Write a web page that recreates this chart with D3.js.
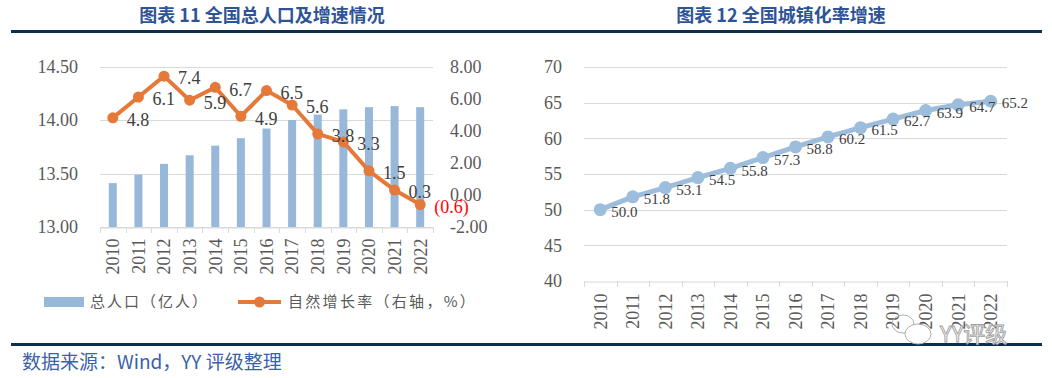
<!DOCTYPE html>
<html>
<head>
<meta charset="utf-8">
<script src="https://cdn.jsdelivr.net/npm/d3@7"></script>
<style>
  body { margin: 0; background: #fff; }
  svg { display: block; }
</style>
</head>
<body>
<div id="chart"></div>
<script>
// data
const years = ["2010", "2011", "2012", "2013", "2014", "2015", "2016", "2017", "2018", "2019", "2020", "2021", "2022"];
const population = [13.41, 13.49, 13.59, 13.67, 13.76, 13.83, 13.92, 14.00, 14.05, 14.10, 14.12, 14.13, 14.12];
const growthRate = [4.8, 6.1, 7.4, 5.9, 6.7, 4.9, 6.5, 5.6, 3.8, 3.3, 1.5, 0.3, -0.6];
const urbanRate = [50.0, 51.8, 53.1, 54.5, 55.8, 57.3, 58.8, 60.2, 61.5, 62.7, 63.9, 64.7, 65.2];
const popTicks = [13.0, 13.5, 14.0, 14.5];
const rateTicks = [-2, 0, 2, 4, 6, 8];
const urbanTicks = [40, 45, 50, 55, 60, 65, 70];

const W = 1052, H = 378;
const numFont = "'Liberation Serif', 'Times New Roman', serif";
const cjkFont = "'Noto Sans CJK SC', sans-serif";
const grey = "#595959", gridColor = "#d9d9d9";
const barColor = "#97b8d9", orange = "#e4793a", lineBlue = "#9dbddc";
const titleBlue = "#2f5496", navy = "#0f2d4f";

// excel style: plain hyphen for negatives
const fmt2 = (d) => d3.format(".2f")(d).replace("−", "-");

const svg = d3.select("#chart").append("svg")
	.attr("width", W)
	.attr("height", H);

// titles + rules
const titles = [["图表 11 全国总人口及增速情况", 262], ["图表 12 全国城镇化率增速", 781]];
svg.selectAll(".title")
	.data(titles)
	.enter()
	.append("text")
	.attr("x", (d) => d[1])
	.attr("y", 22)
	.attr("text-anchor", "middle")
	.attr("fill", titleBlue)
	.style("font", `bold 18px ${cjkFont}`)
	.text((d) => d[0]);

svg.append("line").attr("x1", 11).attr("x2", 1042).attr("y1", 31.5).attr("y2", 31.5)
	.attr("stroke", navy).attr("stroke-width", 3);
svg.append("line").attr("x1", 11).attr("x2", 1042).attr("y1", 344.5).attr("y2", 344.5)
	.attr("stroke", navy).attr("stroke-width", 3);

svg.append("text")
	.attr("x", 22)
	.attr("y", 369)
	.attr("fill", "#3a62a8")
	.style("font", `19px ${cjkFont}`)
	.text("数据来源：Wind，YY 评级整理");

// ---------- left chart ----------
const x1 = d3.scaleBand().domain(years).range([100, 433]);
const yPop = d3.scaleLinear().domain([13, 14.5]).range([227, 66.5]);
const yRate = d3.scaleLinear().domain([-2, 8]).range([227, 66.5]);

const left = svg.append("g");

left.selectAll(".grid")
	.data(popTicks)
	.enter()
	.append("line")
	.attr("x1", 100).attr("x2", 433)
	.attr("y1", (d) => Math.round(yPop(d)) + 0.5)
	.attr("y2", (d) => Math.round(yPop(d)) + 0.5)
	.attr("stroke", gridColor);

const barW = 8;
left.selectAll("rect")
	.data(population)
	.enter()
	.append("rect")
	.attr("x", (d, i) => x1(years[i]) + x1.bandwidth() / 2 - barW / 2)
	.attr("y", (d) => yPop(d))
	.attr("width", barW)
	.attr("height", (d) => yPop(13) - yPop(d))
	.attr("fill", barColor);

const xAxisLeft = left.append("g")
	.attr("transform", "translate(0,227.5)")
	.call(d3.axisBottom(x1).tickSize(0));
xAxisLeft.select(".domain").attr("stroke", gridColor);
xAxisLeft.selectAll("text")
	.attr("transform", "rotate(-90)")
	.attr("x", -11).attr("y", 0).attr("dy", "0.35em")
	.attr("text-anchor", "end")
	.attr("fill", grey)
	.style("font", `18px ${numFont}`);
left.selectAll(".btick")
	.data(d3.range(years.length + 1))
	.enter()
	.append("line")
	.attr("x1", (i) => Math.round(100 + i * x1.step()) + 0.5)
	.attr("x2", (i) => Math.round(100 + i * x1.step()) + 0.5)
	.attr("y1", 227).attr("y2", 233)
	.attr("stroke", gridColor);

const yAxisL = left.append("g")
	.attr("transform", "translate(100,0)")
	.call(d3.axisLeft(yPop).tickValues(popTicks).tickFormat(fmt2).tickSize(0).tickPadding(22));
yAxisL.select(".domain").remove();
yAxisL.selectAll("text").attr("fill", grey).style("font", `18px ${numFont}`);

const yAxisR = left.append("g")
	.attr("transform", "translate(433,0)")
	.call(d3.axisRight(yRate).tickValues(rateTicks).tickFormat(fmt2).tickSize(0).tickPadding(17));
yAxisR.select(".domain").remove();
yAxisR.selectAll("text").attr("fill", grey).style("font", `18px ${numFont}`);

const rateLine = d3.line()
	.x((d, i) => x1(years[i]) + x1.bandwidth() / 2)
	.y((d) => yRate(d));
left.append("path")
	.datum(growthRate)
	.attr("d", rateLine)
	.attr("fill", "none")
	.attr("stroke", orange)
	.attr("stroke-width", 4)
	.attr("stroke-linejoin", "round");
left.selectAll(".dot")
	.data(growthRate)
	.enter()
	.append("circle")
	.attr("cx", (d, i) => x1(years[i]) + x1.bandwidth() / 2)
	.attr("cy", (d) => yRate(d))
	.attr("r", 5.5)
	.attr("fill", orange);
left.selectAll(".lbl")
	.data(growthRate)
	.enter()
	.append("text")
	.attr("x", (d, i) => x1(years[i]) + x1.bandwidth() / 2 + 14)
	.attr("y", (d) => yRate(d) + 2)
	.attr("dy", "0.35em")
	.attr("fill", (d) => (d < 0 ? "#ff0000" : "#404040"))
	.style("font", `18px ${numFont}`)
	.text((d) => (d < 0 ? `(${d3.format(".1f")(-d)})` : d3.format(".1f")(d)));

// legend
const legend = svg.append("g").style("font", `15px ${cjkFont}`).attr("fill", grey);
legend.append("rect").attr("x", 44).attr("y", 297).attr("width", 40).attr("height", 10).attr("fill", barColor);
legend.append("text").attr("x", 90).attr("y", 307).style("letter-spacing", "2px").text("总人口（亿人）");
legend.append("line").attr("x1", 238).attr("x2", 281).attr("y1", 302).attr("y2", 302)
	.attr("stroke", orange).attr("stroke-width", 4);
legend.append("circle").attr("cx", 259.5).attr("cy", 302).attr("r", 5.5).attr("fill", orange);
legend.append("text").attr("x", 288).attr("y", 307).style("letter-spacing", "2.3px").text("自然增长率（右轴，%）");

// ---------- right chart ----------
const x2 = d3.scaleBand().domain(years).range([584, 1007]);
const yUrb = d3.scaleLinear().domain([40, 70]).range([281, 67]);

const right = svg.append("g");
right.selectAll(".grid")
	.data(urbanTicks.slice(1))
	.enter()
	.append("line")
	.attr("x1", 584).attr("x2", 1007)
	.attr("y1", (d) => Math.round(yUrb(d)) + 0.5)
	.attr("y2", (d) => Math.round(yUrb(d)) + 0.5)
	.attr("stroke", gridColor);

const xAxisRight = right.append("g")
	.attr("transform", "translate(0,281.5)")
	.call(d3.axisBottom(x2).tickSize(0));
xAxisRight.select(".domain").attr("stroke", gridColor);
xAxisRight.selectAll("text")
	.attr("transform", "rotate(-90)")
	.attr("x", -12).attr("y", 0).attr("dy", "0.35em")
	.attr("text-anchor", "end")
	.attr("fill", grey)
	.style("font", `18px ${numFont}`);
right.selectAll(".btick")
	.data(d3.range(years.length + 1))
	.enter()
	.append("line")
	.attr("x1", (i) => Math.round(584 + i * x2.step()) + 0.5)
	.attr("x2", (i) => Math.round(584 + i * x2.step()) + 0.5)
	.attr("y1", 281).attr("y2", 287)
	.attr("stroke", gridColor);

const yAxisU = right.append("g")
	.attr("transform", "translate(584,0)")
	.call(d3.axisLeft(yUrb).tickValues(urbanTicks).tickSize(0).tickPadding(22));
yAxisU.select(".domain").remove();
yAxisU.selectAll("text").attr("fill", grey).style("font", `18px ${numFont}`);

const urbLine = d3.line()
	.x((d, i) => x2(years[i]) + x2.bandwidth() / 2)
	.y((d) => yUrb(d));
right.append("path")
	.datum(urbanRate)
	.attr("d", urbLine)
	.attr("fill", "none")
	.attr("stroke", lineBlue)
	.attr("stroke-width", 5)
	.attr("stroke-linejoin", "round");
right.selectAll(".dot")
	.data(urbanRate)
	.enter()
	.append("circle")
	.attr("cx", (d, i) => x2(years[i]) + x2.bandwidth() / 2)
	.attr("cy", (d) => yUrb(d))
	.attr("r", 6.5)
	.attr("fill", lineBlue);
right.selectAll(".lbl")
	.data(urbanRate)
	.enter()
	.append("text")
	.attr("x", (d, i) => x2(years[i]) + x2.bandwidth() / 2 + 11)
	.attr("y", (d) => yUrb(d) + 2)
	.attr("dy", "0.35em")
	.attr("fill", "#404040")
	.style("font", `15px ${numFont}`)
	.text((d) => d3.format(".1f")(d));

// watermark
const wm = svg.append("g").attr("fill", "none").attr("stroke", "#b0b0b0").attr("stroke-width", 1);
wm.append("ellipse").attr("cx", 903).attr("cy", 324).attr("rx", 11).attr("ry", 9);
wm.append("ellipse").attr("cx", 918).attr("cy", 334).attr("rx", 13).attr("ry", 10).attr("fill", "#fff");
svg.append("text")
	.attr("x", 940)
	.attr("y", 342)
	.attr("fill", "#fff")
	.attr("stroke", "#a0a0a0")
	.attr("stroke-width", 0.9)
	.style("font", `22px ${cjkFont}`)
	.text("YY评级");
</script>
</body>
</html>
